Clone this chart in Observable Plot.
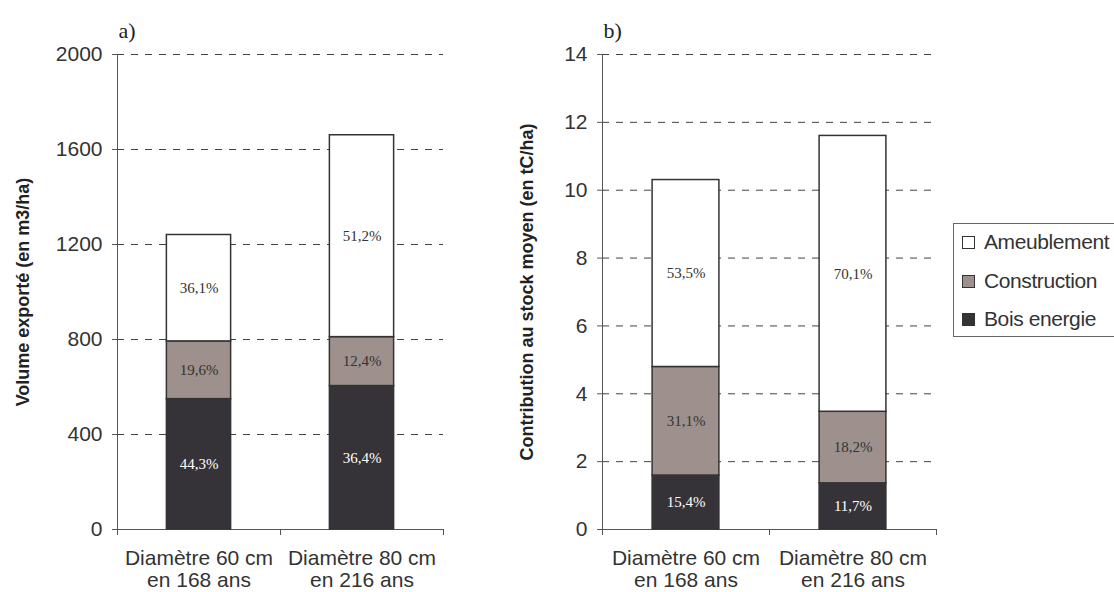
<!DOCTYPE html>
<html><head><meta charset="utf-8">
<script src="https://cdn.jsdelivr.net/npm/d3@7"></script>
<script src="https://cdn.jsdelivr.net/npm/@observablehq/plot@0.6"></script>
<style>
body{margin:0;background:#fff;}
#wrap{position:relative;width:1114px;height:592px;overflow:hidden;font-family:"Liberation Sans",Arial,sans-serif;}
#pa,#pb{position:absolute;top:0;}
#pa{left:0}
#pb{left:470px}
#legend{position:absolute;left:953px;top:223px;width:175px;height:114px;border:1px solid #666;box-sizing:border-box;background:#fff;}
.row{position:absolute;left:8px;height:24px;display:flex;align-items:center;font-size:21px;color:#333;letter-spacing:-0.4px;white-space:nowrap}
.sw{width:11px;height:11px;border:1px solid #333;margin-right:9px;flex:none}
</style></head><body>
<div id="wrap"><div id="pa"></div><div id="pb"></div><div id="legend"></div></div>
<script>
// ---- data ----
const categories = ["Diamètre 60 cm\nen 168 ans", "Diamètre 80 cm\nen 216 ans"];
const uses = ["Bois energie", "Construction", "Ameublement"];
const useColors = ["#353337", "#9e918d", "#ffffff"];
const legendOrder = ["Ameublement", "Construction", "Bois energie"];

// panel a: volume exporté (m3/ha)
const volBoisEnergie = [549, 604];
const volConstruction = [243, 206];
const volAmeublement = [448, 850];
const pctVolBoisEnergie = ["44,3%", "36,4%"];
const pctVolConstruction = ["19,6%", "12,4%"];
const pctVolAmeublement = ["36,1%", "51,2%"];
const ticksA = [0, 400, 800, 1200, 1600, 2000];

// panel b: contribution au stock moyen (tC/ha)
const carbBoisEnergie = [1.59, 1.36];
const carbConstruction = [3.20, 2.11];
const carbAmeublement = [5.51, 8.13];
const pctCarbBoisEnergie = ["15,4%", "11,7%"];
const pctCarbConstruction = ["31,1%", "18,2%"];
const pctCarbAmeublement = ["53,5%", "70,1%"];
const ticksB = [0, 2, 4, 6, 8, 10, 12, 14];

function buildRows(vals, pcts) {
  const rows = [];
  categories.forEach((c, i) => {
    let cum = 0;
    uses.forEach((u, j) => {
      const v = vals[j][i];
      rows.push({i, use: u, y1: cum, y2: cum + v, mid: cum + v / 2, pct: pcts[j][i]});
      cum += v;
    });
  });
  return rows;
}

const serif = "'Liberation Serif','Times New Roman',serif";

function panel({rows, yTicks, title, tag, width, marginLeft, marginRight, titleDx, hw}) {
  return Plot.plot({
    width, height: 592, marginLeft, marginRight, marginTop: 54, marginBottom: 63,
    x: {domain: [-0.5, 1.5], axis: null},
    y: {domain: [yTicks[0], yTicks[yTicks.length - 1]], axis: null},
    color: {domain: uses, range: useColors},
    style: {fontFamily: "'Liberation Sans',Arial,sans-serif", fontSize: "21px", color: "#333", background: "transparent", overflow: "visible"},
    marks: [
      Plot.gridY({ticks: yTicks, stroke: "#444", strokeOpacity: 1, strokeDasharray: "7,7"}),
      Plot.axisY({ticks: yTicks, tickSize: 5, tickPadding: 10, tickFormat: d => String(d), label: null, fontSize: 21, stroke: "#555", fill: "#333"}),
      Plot.axisX({ticks: [-0.5, 0.5, 1.5], tickSize: 6, tickFormat: () => "", stroke: "#555", label: null}),
      Plot.axisX({ticks: [0, 1], tickSize: 0, tickPadding: 20, tickFormat: i => categories[i], fontSize: 21, lineHeight: 1.05, fill: "#333", label: null}),
      Plot.ruleY([0], {stroke: "#555"}),
      Plot.ruleX([-0.5], {stroke: "#555"}),
      Plot.rectY(rows, {x1: d => d.i - hw, x2: d => d.i + hw, y1: "y1", y2: "y2", fill: "use", stroke: "#333", strokeWidth: 1.5}),
      Plot.text(rows.filter(d => d.use === "Bois energie"), {x: "i", y: "mid", text: "pct", fill: "white", fontFamily: serif, fontSize: 15}),
      Plot.text(rows.filter(d => d.use !== "Bois energie"), {x: "i", y: "mid", text: "pct", fill: "#333", fontFamily: serif, fontSize: 15}),
      Plot.text([tag], {frameAnchor: "top-left", text: d => d, dx: 1, dy: -24, lineAnchor: "middle", textAnchor: "start", fontFamily: serif, fontSize: 22, fill: "#222"}),
      Plot.text([title], {frameAnchor: "left", rotate: -90, dx: titleDx, text: d => d, textAnchor: "middle", lineAnchor: "middle", fontWeight: "bold", fontSize: 18, fill: "#222"})
    ]
  });
}

document.getElementById("pa").append(panel({
  rows: buildRows([volBoisEnergie, volConstruction, volAmeublement], [pctVolBoisEnergie, pctVolConstruction, pctVolAmeublement]),
  yTicks: ticksA, title: "Volume exporté (en m3/ha)", tag: "a)",
  width: 470, marginLeft: 117, marginRight: 27, titleDx: -94, hw: 0.197
}));
document.getElementById("pb").append(panel({
  rows: buildRows([carbBoisEnergie, carbConstruction, carbAmeublement], [pctCarbBoisEnergie, pctCarbConstruction, pctCarbAmeublement]),
  yTicks: ticksB, title: "Contribution au stock moyen (en tC/ha)", tag: "b)",
  width: 480, marginLeft: 132, marginRight: 14, titleDx: -75, hw: 0.2
}));

const legend = document.getElementById("legend");
const rowTops = [6, 45, 83];
legendOrder.forEach((u, k) => {
  const r = document.createElement("div");
  r.className = "row";
  r.style.top = rowTops[k] + "px";
  const sw = document.createElement("div");
  sw.className = "sw";
  sw.style.background = useColors[uses.indexOf(u)];
  const t = document.createElement("span");
  t.textContent = u;
  r.append(sw, t);
  legend.append(r);
});
</script>
</body></html>
